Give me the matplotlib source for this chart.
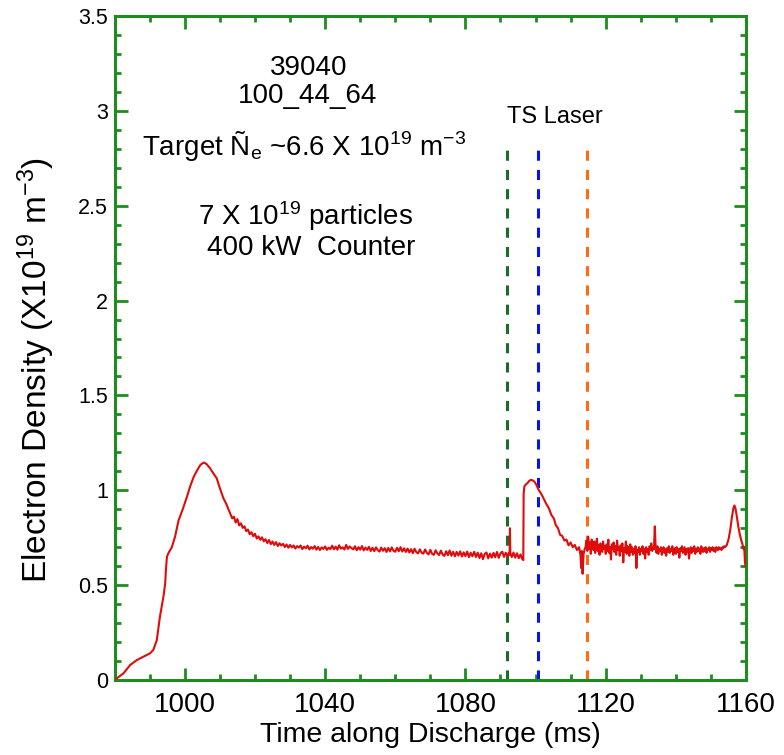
import numpy as np
import matplotlib
matplotlib.use("Agg")
import matplotlib.pyplot as plt
from matplotlib.ticker import MultipleLocator

plt.rcParams['font.family'] = ['Liberation Sans', 'DejaVu Sans']
plt.rcParams['mathtext.fontset'] = 'custom'
plt.rcParams['mathtext.rm'] = 'Liberation Sans'
plt.rcParams['mathtext.it'] = 'Liberation Sans:italic'
plt.rcParams['mathtext.bf'] = 'Liberation Sans:bold'

# ---------------- data ----------------
# start-up ramp and first peak
t_rise = [980.6, 982.5, 984.4, 986.3, 988.2, 990.1, 991.0, 992.0, 992.9, 993.9,
          994.4, 994.6, 994.9, 995.3, 996.3, 997.2, 998.2, 999.4, 1000.6, 1001.5,
          1002.5, 1003.5, 1004.4, 1005.0, 1005.5, 1006.2, 1007.2, 1008.1, 1009.1,
          1010.0, 1011.0, 1011.9, 1012.5]
n_rise = [0.009, 0.035, 0.079, 0.105, 0.123, 0.141, 0.158, 0.21, 0.334, 0.44,
          0.51, 0.58, 0.65, 0.668, 0.70, 0.755, 0.84, 0.90, 0.966, 1.02,
          1.07, 1.105, 1.133, 1.142, 1.146, 1.138, 1.116, 1.09, 1.063,
          1.01, 0.958, 0.925, 0.896]

# slow decay and flat-top plateau (0.5 ms samples from 1013.0 ms)
t_flat_start, t_flat_step = 1013.0, 0.5
n_flat = [0.875, 0.852, 0.861, 0.83, 0.848, 0.815, 0.826, 0.802, 0.81, 0.785,
          0.793, 0.768, 0.779, 0.758, 0.771, 0.746, 0.757, 0.739, 0.752, 0.731,
          0.742, 0.722, 0.738, 0.716, 0.73, 0.712, 0.727, 0.706, 0.721, 0.709,
          0.718, 0.701, 0.714, 0.697, 0.712, 0.699, 0.709, 0.693, 0.706, 0.698,
          0.709, 0.69, 0.703, 0.694, 0.708, 0.688, 0.701, 0.692, 0.706, 0.687,
          0.701, 0.685, 0.699, 0.691, 0.704, 0.686, 0.697, 0.69, 0.708, 0.689,
          0.703, 0.687, 0.71, 0.692, 0.699, 0.688, 0.712, 0.691, 0.704, 0.695,
          0.689, 0.705, 0.684, 0.70, 0.687, 0.706, 0.683, 0.698, 0.686, 0.702,
          0.68, 0.697, 0.679, 0.699, 0.684, 0.677, 0.698, 0.681, 0.695, 0.675,
          0.696, 0.678, 0.699, 0.681, 0.676, 0.697, 0.679, 0.70, 0.677, 0.694,
          0.675, 0.693, 0.672, 0.69, 0.668, 0.692, 0.674, 0.667, 0.689, 0.671,
          0.666, 0.688, 0.67, 0.662, 0.686, 0.665, 0.66, 0.684, 0.667, 0.659,
          0.682, 0.661, 0.654, 0.679, 0.658, 0.683, 0.655, 0.676, 0.652, 0.675,
          0.656, 0.678, 0.651, 0.673, 0.653, 0.677, 0.648, 0.671, 0.652, 0.676,
          0.648, 0.671, 0.643, 0.668, 0.637, 0.665, 0.672, 0.641, 0.666, 0.645,
          0.67, 0.647, 0.675, 0.644, 0.668, 0.676, 0.649, 0.671, 0.652, 0.672]

# events around the TS laser times
t_event = [1092.6, 1092.7, 1092.8, 1093.2, 1093.7, 1094.2, 1094.7, 1095.2, 1095.7,
           1096.2, 1096.5, 1096.6, 1096.8, 1097.2, 1097.7, 1098.2, 1098.7, 1099.2,
           1099.7, 1100.2, 1100.8, 1101.5, 1102.2, 1103.0, 1103.8, 1104.5, 1105.2,
           1105.8, 1106.4, 1107.0, 1107.6, 1108.2, 1108.8, 1109.4, 1110.0, 1110.6,
           1111.2, 1111.8, 1112.4, 1112.8, 1113.0, 1113.2, 1113.4, 1113.7, 1114.0]
n_event = [0.66, 0.80, 0.67, 0.648, 0.672, 0.645, 0.668, 0.642, 0.662,
           0.638, 0.632, 0.98, 1.02, 1.03, 1.038, 1.05, 1.055, 1.052,
           1.045, 1.03, 1.005, 0.985, 0.96, 0.93, 0.905, 0.87, 0.852,
           0.815, 0.80, 0.765, 0.76, 0.735, 0.74, 0.71, 0.725, 0.70,
           0.712, 0.685, 0.70, 0.66, 0.59, 0.68, 0.56, 0.665, 0.69]

# noisy late phase (0.25 ms samples from 1114.25 ms)
t_late_start, t_late_step = 1114.25, 0.25
n_late = [0.70, 0.735, 0.68, 0.755, 0.69, 0.725, 0.665, 0.74,
          0.70, 0.685, 0.73, 0.67, 0.715, 0.745, 0.68, 0.71,
          0.66, 0.72, 0.695, 0.675, 0.73, 0.69, 0.705, 0.665,
          0.715, 0.68, 0.74, 0.67, 0.70, 0.635, 0.715, 0.69,
          0.725, 0.675, 0.705, 0.66, 0.735, 0.685, 0.70, 0.655,
          0.71, 0.68, 0.72, 0.62, 0.695, 0.675, 0.73, 0.665,
          0.705, 0.685, 0.655, 0.715, 0.675, 0.70, 0.66, 0.69,
          0.67, 0.705, 0.59, 0.685, 0.675, 0.70, 0.66, 0.69,
          0.68, 0.705, 0.665, 0.69, 0.64, 0.70, 0.675, 0.69,
          0.66, 0.705, 0.685, 0.72, 0.68, 0.70, 0.69, 0.81,
          0.695, 0.67, 0.705, 0.665, 0.69, 0.68, 0.70, 0.66,
          0.685, 0.70, 0.67, 0.69, 0.655, 0.695, 0.675, 0.705,
          0.67, 0.69, 0.68, 0.705, 0.66, 0.685, 0.695, 0.665,
          0.70, 0.675, 0.69, 0.645, 0.695, 0.68, 0.705, 0.67,
          0.685, 0.70, 0.66, 0.69, 0.675, 0.695, 0.64, 0.68,
          0.70, 0.67, 0.695, 0.68, 0.705, 0.665, 0.69, 0.675,
          0.70, 0.68, 0.69, 0.665, 0.705, 0.685, 0.675, 0.695,
          0.68, 0.70, 0.67, 0.69, 0.685, 0.70, 0.675, 0.695,
          0.685, 0.70, 0.68, 0.695, 0.675, 0.70, 0.69, 0.685,
          0.70, 0.69, 0.695, 0.685, 0.70, 0.695, 0.705, 0.70]

# final burst
t_end = [1154.5, 1155.0, 1155.5, 1156.0, 1156.4, 1156.7, 1157.0, 1157.4, 1157.8,
         1158.2, 1158.6, 1159.0, 1159.3, 1159.5, 1159.7, 1159.9]
n_end = [0.71, 0.74, 0.79, 0.86, 0.905, 0.92, 0.905, 0.86, 0.81,
         0.77, 0.74, 0.715, 0.69, 0.70, 0.62, 0.60]

# TS laser times
laser_times = [1091.8, 1100.7, 1114.6]
laser_colors = ['#1d6b2b', '#0a12e6', '#ff6a14']
laser_top = 2.8

x_ticks = [1000, 1040, 1080, 1120, 1160]
y_ticks = [0, 0.5, 1, 1.5, 2, 2.5, 3, 3.5]
y_tick_labels = ['0', '0.5', '1', '1.5', '2', '2.5', '3', '3.5']

# ---------------- assemble series ----------------
t_flat = t_flat_start + t_flat_step * np.arange(len(n_flat))
t_late = t_late_start + t_late_step * np.arange(len(n_late))
t_all = np.concatenate([t_rise, t_flat, t_event, t_late, t_end])
n_all = np.concatenate([n_rise, n_flat, n_event, n_late, n_end])

# ---------------- figure ----------------
W, H = 784, 755
fig = plt.figure(figsize=(W / 100, H / 100), dpi=100)
L, R, T, B = 114.7, 746.0, 16.0, 680.0
ax = fig.add_axes([L / W, 1 - B / H, (R - L) / W, (B - T) / H])

green = '#1e8c1e'

for xl, c in zip(laser_times, laser_colors):
    ax.vlines(xl, 0, laser_top, colors=c, linewidth=2.2,
              linestyles=(0, (3.3, 3.0)), zorder=2)

ax.plot(t_all, n_all, color='#e00b0b', linewidth=1.5, zorder=3)

ax.set_xlim(980, 1160)
ax.set_ylim(0, 3.5)
ax.set_xticks(x_ticks)
ax.set_yticks(y_ticks)
ax.set_yticklabels(y_tick_labels)
ax.xaxis.set_minor_locator(MultipleLocator(10))
ax.yaxis.set_minor_locator(MultipleLocator(0.1))

for s in ax.spines.values():
    s.set_color(green)
    s.set_linewidth(2.2)

ax.tick_params(which='both', direction='in', top=True, right=True,
               color=green, width=2.0)
ax.tick_params(which='major', length=9)
ax.tick_params(which='minor', length=4.5)
ax.tick_params(axis='x', which='major', labelsize=20, pad=9)
ax.tick_params(axis='y', which='major', labelsize=15.5, pad=5)

ax.set_xlabel('Time along Discharge (ms)', fontsize=20.5)
ax.xaxis.set_label_coords(0.5, -0.064)
ax.set_ylabel('Electron Density (X10$^{19}$ m$^{-3}$)', fontsize=24)
ax.yaxis.set_label_coords(-0.092, 0.467)

def fx(px):
    return (px - L) / (R - L)

def fy(py):
    return (B - py) / (B - T)

ax.text(fx(309), fy(75), '39040', transform=ax.transAxes, fontsize=20,
        ha='center', va='baseline')
ax.text(fx(308), fy(103.3), '100_44_64', transform=ax.transAxes, fontsize=20,
        ha='center', va='baseline')
ax.text(fx(142), fy(155), 'Target Ñ$_\\mathrm{e}$ ~6.6 X 10$^{19}$ m$^{-3}$',
        transform=ax.transAxes, fontsize=20, ha='left', va='baseline')
ax.text(fx(198), fy(225), '7 X 10$^{19}$ particles', transform=ax.transAxes,
        fontsize=20, ha='left', va='baseline')
ax.text(fx(207), fy(255), '400 kW  Counter', transform=ax.transAxes,
        fontsize=20, ha='left', va='baseline')
ax.text(fx(507), fy(123), 'TS Laser', transform=ax.transAxes, fontsize=17,
        ha='left', va='baseline')

fig.savefig('out.png', dpi=100)
